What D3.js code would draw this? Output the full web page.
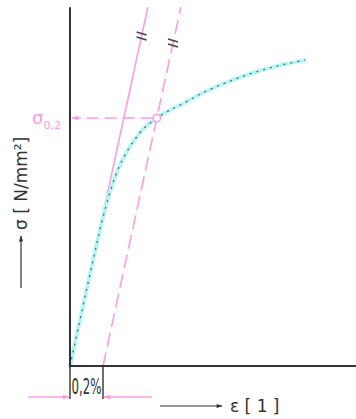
<!DOCTYPE html>
<html>
<head>
<meta charset="utf-8">
<script src="https://cdn.jsdelivr.net/npm/d3@7"></script>
<style>
  body { margin: 0; background: #fff; }
  svg { display: block; }
</style>
</head>
<body>
<svg id="chart" width="356" height="419"></svg>
<script>
// stress-strain curve, strain in %, stress in N/mm²
const strain = [0, 0.05, 0.1, 0.15, 0.2, 0.25, 0.3, 0.35, 0.4, 0.45, 0.527, 0.6, 0.7, 0.8, 0.9, 1.0, 1.1, 1.2, 1.3, 1.424];
const stress = [0, 46, 92, 137, 180, 215, 242, 261, 276, 288, 300, 309, 319, 330, 339, 347, 354, 360, 365, 370];
const offsetStrain = 0.2;   // 0,2 % offset
const yieldStress = 300;    // σ0,2
const modulus = 920;        // slope of the elastic line, N/mm² per %
const xMax = 1.733, yMax = 434;

const svg = d3.select("#chart");
const pink = "#ff9ee0", ink = "#333";

const x = d3.scaleLinear().domain([0, offsetStrain]).range([70, 103]);
const y = d3.scaleLinear().domain([0, yieldStress]).range([366, 118]);

const defs = svg.append("defs");
function arrowHead(id, color, w, h) {
  defs.append("marker").attr("id", id)
    .attr("viewBox", "0 0 10 10").attr("refX", 9).attr("refY", 5)
    .attr("markerWidth", w).attr("markerHeight", h)
    .attr("markerUnits", "userSpaceOnUse").attr("orient", "auto")
    .append("path").attr("d", "M0,1.5L10,5L0,8.5Z").attr("fill", color);
}
arrowHead("pinkArrow", pink, 10, 7);
arrowHead("inkArrow", ink, 12, 6);

// elastic line and 0,2% offset line
const topStress = yMax;
svg.append("line")
  .attr("x1", x(0)).attr("y1", y(0))
  .attr("x2", x(topStress / modulus)).attr("y2", y(topStress))
  .attr("stroke", pink).attr("stroke-width", 1.6);
svg.append("line")
  .attr("x1", x(offsetStrain)).attr("y1", y(0))
  .attr("x2", x(offsetStrain + topStress / modulus)).attr("y2", y(topStress))
  .attr("stroke", pink).attr("stroke-width", 1.6)
  .attr("stroke-dasharray", "14,6");

// parallel marks
[[topStress * 0.92, 0], [topStress * 0.90, offsetStrain]].forEach(([s, off]) => {
  const cx = x(off + s / modulus), cy = y(s);
  [-2.5, 2.5].forEach(d => {
    svg.append("line")
      .attr("x1", cx - 5).attr("y1", cy + d - 1.5)
      .attr("x2", cx + 5).attr("y2", cy + d + 1.5)
      .attr("stroke", "#444").attr("stroke-width", 1.6);
  });
});

// curve
const pts = strain.map((s, i) => [s, stress[i]]);
const line = d3.line().x(d => x(d[0])).y(d => y(d[1])).curve(d3.curveCatmullRom.alpha(0.5));
svg.append("path").attr("d", line(pts))
  .attr("fill", "none").attr("stroke", "#b2f7f5").attr("stroke-width", 4)
  .attr("stroke-linecap", "round");
svg.append("path").attr("d", line(pts))
  .attr("fill", "none").attr("stroke", "#667").attr("stroke-width", 1.3)
  .attr("stroke-dasharray", "2,5");

// yield point and arrow to stress axis
const yieldStrain = offsetStrain + yieldStress / modulus;
svg.append("line")
  .attr("x1", x(yieldStrain) - 4).attr("y1", y(yieldStress))
  .attr("x2", x(0) + 2).attr("y2", y(yieldStress))
  .attr("stroke", pink).attr("stroke-width", 1.6)
  .attr("stroke-dasharray", "12,6")
  .attr("marker-end", "url(#pinkArrow)");
svg.append("circle")
  .attr("cx", x(yieldStrain)).attr("cy", y(yieldStress)).attr("r", 3.8)
  .attr("fill", "#fff").attr("stroke", pink).attr("stroke-width", 1.6);

const sLabel = svg.append("text")
  .attr("x", 32).attr("y", y(yieldStress) + 6)
  .attr("fill", pink).attr("font-family", "DejaVu Sans, sans-serif")
  .attr("font-size", 18);
sLabel.append("tspan").text("σ");
sLabel.append("tspan").attr("dy", 5).attr("font-size", 11).text("0,2");

// axes
svg.append("line")
  .attr("x1", x(0)).attr("y1", y(0)).attr("x2", x(0)).attr("y2", y(yMax))
  .attr("stroke", ink).attr("stroke-width", 2);
svg.append("line")
  .attr("x1", x(0) - 1).attr("y1", y(0)).attr("x2", x(xMax)).attr("y2", y(0))
  .attr("stroke", ink).attr("stroke-width", 2);

// 0,2% dimension
[0, offsetStrain].forEach(v => {
  svg.append("line")
    .attr("x1", x(v)).attr("y1", y(0)).attr("x2", x(v)).attr("y2", y(0) + 33)
    .attr("stroke", ink).attr("stroke-width", 1.4);
});
svg.append("text")
  .attr("x", (x(0) + x(offsetStrain)) / 2).attr("y", y(0) + 28)
  .attr("text-anchor", "middle").attr("fill", ink)
  .attr("font-family", "DejaVu Sans Condensed, sans-serif")
  .attr("font-size", 21).attr("textLength", 30).attr("lengthAdjust", "spacingAndGlyphs")
  .text("0,2%");
svg.append("line")
  .attr("x1", 28).attr("y1", y(0) + 31).attr("x2", x(0) - 1).attr("y2", y(0) + 31)
  .attr("stroke", pink).attr("stroke-width", 1.4).attr("marker-end", "url(#pinkArrow)");
svg.append("line")
  .attr("x1", 152).attr("y1", y(0) + 31).attr("x2", x(offsetStrain) + 1).attr("y2", y(0) + 31)
  .attr("stroke", pink).attr("stroke-width", 1.4).attr("marker-end", "url(#pinkArrow)");

// x axis title
svg.append("line")
  .attr("x1", 160).attr("y1", 406).attr("x2", 222).attr("y2", 406)
  .attr("stroke", ink).attr("stroke-width", 1.2).attr("marker-end", "url(#inkArrow)");
svg.append("text")
  .attr("x", 230).attr("y", 412).attr("fill", ink)
  .attr("font-family", "DejaVu Sans, sans-serif").attr("font-size", 17)
  .text("ε [ 1 ]");

// y axis title
const yt = svg.append("g").attr("transform", "translate(21,0) rotate(-90)");
yt.append("line")
  .attr("x1", -288).attr("y1", 0).attr("x2", -236).attr("y2", 0)
  .attr("stroke", ink).attr("stroke-width", 1.2).attr("marker-end", "url(#inkArrow)");
yt.append("text")
  .attr("x", -230).attr("y", 6).attr("fill", ink)
  .attr("font-family", "DejaVu Sans, sans-serif").attr("font-size", 17)
  .text("σ [ N/mm²]");
</script>
</body>
</html>
